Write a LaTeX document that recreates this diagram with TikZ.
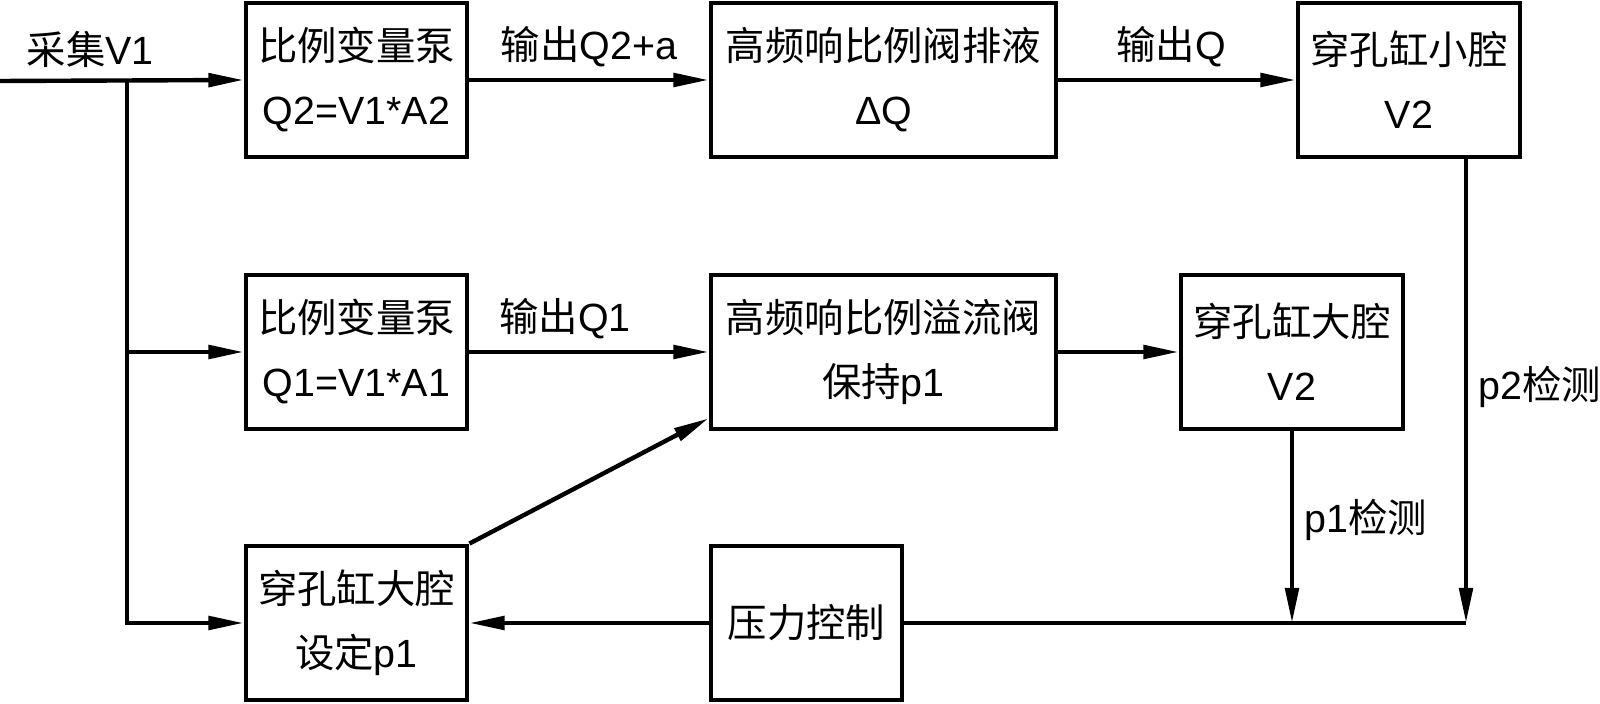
\documentclass[tikz,border=0pt]{standalone}
\usepackage{fontspec}
\setmainfont{Liberation Sans}
\newfontfamily\cjk{Noto Sans CJK SC}
\usetikzlibrary{positioning,arrows.meta,calc}
\newcommand{\zh}[1]{{\cjk #1}}
\newcommand{\fs}{\fontsize{11.2}{18.2}\selectfont}
\tikzset{
  blk/.style={draw,line width=1.35pt,minimum height=1.54cm,align=center,inner sep=0pt,font=\fs},
  wire/.style={line width=1.25pt},
  flow/.style={-{Triangle[length=10pt,width=3.8pt]},line width=1.25pt},
  lbl/.style={font=\fs,inner sep=3pt},
}
\begin{document}
\begin{tikzpicture}[x=0.01cm,y=-0.01cm]
  \useasboundingbox (0,0) rectangle (1600,704);
  % top row: small chamber branch
  \node[blk,minimum width=2.21cm] (pumpA) at (356.5,80) {\zh{比例变量泵}\\Q2=V1*A2};
  \node[blk,minimum width=3.45cm] (drainv) at (883.5,80) {\zh{高频响比例阀排液}\\ΔQ};
  \node[blk,minimum width=2.22cm] (rodc) at (1409,80) {\zh{穿孔缸小腔}\\V2};
  % middle row: large chamber branch
  \node[blk,minimum width=2.21cm] (pumpB) at (356.5,352) {\zh{比例变量泵}\\Q1=V1*A1};
  \node[blk,minimum width=3.45cm] (reliefv) at (883.5,352) {\zh{高频响比例溢流阀}\\\zh{保持}p1};
  \node[blk,minimum width=2.22cm] (headc) at (1292,352) {\zh{穿孔缸大腔}\\V2};
  % bottom row: pressure loop
  \node[blk,minimum width=2.21cm] (setp) at (356.5,623) {\zh{穿孔缸大腔}\\\zh{设定}p1};
  \node[blk,minimum width=1.91cm] (pctrl) at (806.5,623) {\zh{压力控制}};

  \coordinate (vin) at (0,81);
  \coordinate (split) at (127,81);
  \coordinate (p1end) at (headc.south |- pctrl.east);
  \coordinate (p2top) at ($(rodc.south)+(57,0)$);
  \coordinate (p2end) at (p2top |- pctrl.east);

  \draw[flow] (vin) -- node[lbl,above,pos=0.37]{\zh{采集}V1} (pumpA.west);
  \draw[flow] (split) -- (split |- setp.west) -- (setp.west);
  \draw[flow] (split |- pumpB.west) -- (pumpB.west);
  \draw[flow] (pumpA.east) -- node[lbl,above]{\zh{输出}Q2+a} (drainv.west);
  \draw[flow] (drainv.east) -- node[lbl,above,pos=0.475]{\zh{输出}Q} (rodc.west);
  \draw[flow] (pumpB.east) -- node[lbl,above,pos=0.4]{\zh{输出}Q1} (reliefv.west);
  \draw[flow] (reliefv.east) -- (headc.west);
  \draw[flow] (setp.north east) -- ([yshift=0.13cm]reliefv.south west);
  % pressure feedback
  \draw[flow] (headc.south) -- node[lbl,right,pos=0.46]{p1\zh{检测}} (p1end);
  \draw[flow] (p2top) -- node[lbl,right,pos=0.49]{p2\zh{检测}} (p2end);
  \draw[wire] (p2end) -- (pctrl.east);
  \draw[flow] (pctrl.west) -- (setp.east);
\end{tikzpicture}
\end{document}
